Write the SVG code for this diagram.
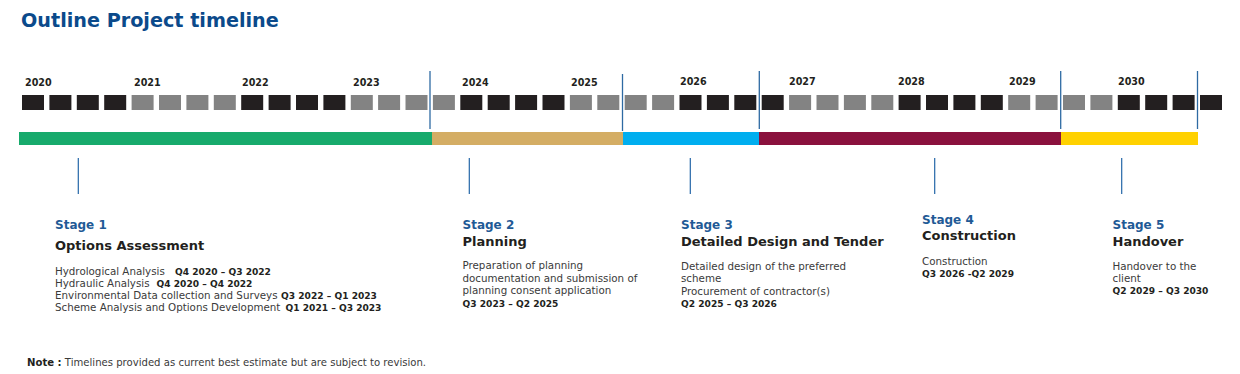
<svg xmlns="http://www.w3.org/2000/svg" width="1240" height="374" viewBox="0 0 1240 374">
<style>
text{font-family:"DejaVu Sans","Liberation Sans",sans-serif}
.title{font-size:19.2px;font-weight:bold;fill:#0b4a8b}
.yr{font-size:9.6px;font-weight:bold;fill:#231f20}
.k{fill:#231f20}
.g{fill:#838383}
.div{stroke:#2e6aa3;stroke-width:1.3}
.tick{stroke:#2466a8;stroke-width:1.2}
.st{font-size:12px;font-weight:bold;fill:#1f5a96}
.hd{font-size:13px;font-weight:bold;fill:#231f20}
.bd{font-size:10.3px;fill:#3a3a3a}
.b{font-size:9.1px;font-weight:bold;fill:#231f20}
.note{font-size:10.1px;fill:#3a3a3a}
</style>
<rect width="1240" height="374" fill="#ffffff"/>
<text class="title" x="21" y="27">Outline Project timeline</text>
<g id="years">
<text class="yr" x="25" y="86">2020</text>
<text class="yr" x="134" y="86">2021</text>
<text class="yr" x="242" y="86">2022</text>
<text class="yr" x="353" y="86">2023</text>
<text class="yr" x="462" y="86">2024</text>
<text class="yr" x="571" y="86">2025</text>
<text class="yr" x="680" y="85">2026</text>
<text class="yr" x="789" y="85">2027</text>
<text class="yr" x="898" y="85">2028</text>
<text class="yr" x="1009" y="85">2029</text>
<text class="yr" x="1118" y="85">2030</text>
</g>
<g id="quarters">
<rect class="k" x="22" y="95" width="22" height="15"/>
<rect class="k" x="49.4" y="95" width="22" height="15"/>
<rect class="k" x="76.8" y="95" width="22" height="15"/>
<rect class="k" x="104.2" y="95" width="22" height="15"/>
<rect class="g" x="131.6" y="95" width="22" height="15"/>
<rect class="g" x="159" y="95" width="22" height="15"/>
<rect class="g" x="186.4" y="95" width="22" height="15"/>
<rect class="g" x="213.8" y="95" width="22" height="15"/>
<rect class="k" x="241.2" y="95" width="22" height="15"/>
<rect class="k" x="268.6" y="95" width="22" height="15"/>
<rect class="k" x="296" y="95" width="22" height="15"/>
<rect class="k" x="323.4" y="95" width="22" height="15"/>
<rect class="g" x="350.8" y="95" width="22" height="15"/>
<rect class="g" x="378.1" y="95" width="22" height="15"/>
<rect class="g" x="405.5" y="95" width="22" height="15"/>
<rect class="g" x="432.9" y="95" width="22" height="15"/>
<rect class="k" x="460.3" y="95" width="22" height="15"/>
<rect class="k" x="487.7" y="95" width="22" height="15"/>
<rect class="k" x="515.1" y="95" width="22" height="15"/>
<rect class="k" x="542.5" y="95" width="22" height="15"/>
<rect class="g" x="569.9" y="95" width="22" height="15"/>
<rect class="g" x="597.3" y="95" width="22" height="15"/>
<rect class="g" x="624.7" y="95" width="22" height="15"/>
<rect class="g" x="652.1" y="95" width="22" height="15"/>
<rect class="k" x="679.5" y="95" width="22" height="15"/>
<rect class="k" x="706.9" y="95" width="22" height="15"/>
<rect class="k" x="734.3" y="95" width="22" height="15"/>
<rect class="k" x="761.7" y="95" width="22" height="15"/>
<rect class="g" x="789.1" y="95" width="22" height="15"/>
<rect class="g" x="816.5" y="95" width="22" height="15"/>
<rect class="g" x="843.9" y="95" width="22" height="15"/>
<rect class="g" x="871.3" y="95" width="22" height="15"/>
<rect class="k" x="898.6" y="95" width="22" height="15"/>
<rect class="k" x="926" y="95" width="22" height="15"/>
<rect class="k" x="953.4" y="95" width="22" height="15"/>
<rect class="k" x="980.8" y="95" width="22" height="15"/>
<rect class="g" x="1008.2" y="95" width="22" height="15"/>
<rect class="g" x="1035.6" y="95" width="22" height="15"/>
<rect class="g" x="1063" y="95" width="22" height="15"/>
<rect class="g" x="1090.4" y="95" width="22" height="15"/>
<rect class="k" x="1117.8" y="95" width="22" height="15"/>
<rect class="k" x="1145.2" y="95" width="22" height="15"/>
<rect class="k" x="1172.6" y="95" width="22" height="15"/>
<rect class="k" x="1200" y="95" width="22" height="15"/>
</g>
<g id="bar">
<rect x="19" y="132" width="413" height="13" fill="#17aa6c"/>
<rect x="432" y="132" width="191" height="13" fill="#d4ad64"/>
<rect x="623" y="132" width="136" height="13" fill="#00aeef"/>
<rect x="759" y="132" width="302" height="13" fill="#8a113d"/>
<rect x="1061" y="132" width="137" height="13" fill="#ffd100"/>
</g>
<g id="connectors">
<line class="div" x1="430" y1="71" x2="430" y2="129"/>
<line class="div" x1="622.5" y1="74" x2="622.5" y2="131"/>
<line class="div" x1="759.3" y1="71" x2="759.3" y2="129"/>
<line class="div" x1="1060.7" y1="71" x2="1060.7" y2="129"/>
<line class="div" x1="1197.5" y1="71" x2="1197.5" y2="129"/>
<line class="tick" x1="78.3" y1="158" x2="78.3" y2="194"/>
<line class="tick" x1="469.3" y1="158" x2="469.3" y2="194"/>
<line class="tick" x1="690.3" y1="158" x2="690.3" y2="194"/>
<line class="tick" x1="934.7" y1="158" x2="934.7" y2="194"/>
<line class="tick" x1="1121.7" y1="158" x2="1121.7" y2="194" stroke="#6d9cc4"/>
</g>
<g id="stage1">
<text class="st" x="55" y="229">Stage 1</text>
<text class="hd" x="55" y="250">Options Assessment</text>
<text class="bd" x="55" y="275">Hydrological Analysis<tspan class="b" x="175">Q4 2020 – Q3 2022</tspan></text>
<text class="bd" x="55" y="287">Hydraulic Analysis<tspan class="b" x="156.5">Q4 2020 – Q4 2022</tspan></text>
<text class="bd" x="55" y="299">Environmental Data collection and Surveys<tspan class="b" x="281">Q3 2022 – Q1 2023</tspan></text>
<text class="bd" x="55" y="311">Scheme Analysis and Options Development<tspan class="b" x="285.5">Q1 2021 – Q3 2023</tspan></text>
</g>
<g id="stage2">
<text class="st" x="462.5" y="229">Stage 2</text>
<text class="hd" x="462.5" y="246">Planning</text>
<text class="bd" x="462.5" y="269">Preparation of planning</text>
<text class="bd" x="462.5" y="281.5">documentation and submission of</text>
<text class="bd" x="462.5" y="294">planning consent application</text>
<text class="b" x="462.5" y="306.5">Q3 2023 – Q2 2025</text>
</g>
<g id="stage3">
<text class="st" x="681" y="229">Stage 3</text>
<text class="hd" x="681" y="246">Detailed Design and Tender</text>
<text class="bd" x="681" y="270">Detailed design of the preferred</text>
<text class="bd" x="681" y="282">scheme</text>
<text class="bd" x="681" y="294.5">Procurement of contractor(s)</text>
<text class="b" x="681" y="306.5">Q2 2025 – Q3 2026</text>
</g>
<g id="stage4">
<text class="st" x="922" y="223.5">Stage 4</text>
<text class="hd" x="922" y="240">Construction</text>
<text class="bd" x="922" y="264.5">Construction</text>
<text class="b" x="922" y="276.5">Q3 2026 -Q2 2029</text>
</g>
<g id="stage5">
<text class="st" x="1112.5" y="229">Stage 5</text>
<text class="hd" x="1112.5" y="246">Handover</text>
<text class="bd" x="1112.5" y="269.5">Handover to the</text>
<text class="bd" x="1112.5" y="282">client</text>
<text class="b" x="1112.5" y="294">Q2 2029 – Q3 2030</text>
</g>
<text class="note" x="27" y="366"><tspan font-weight="bold" fill="#231f20">Note :</tspan> Timelines provided as current best estimate but are subject to revision.</text>
</svg>
